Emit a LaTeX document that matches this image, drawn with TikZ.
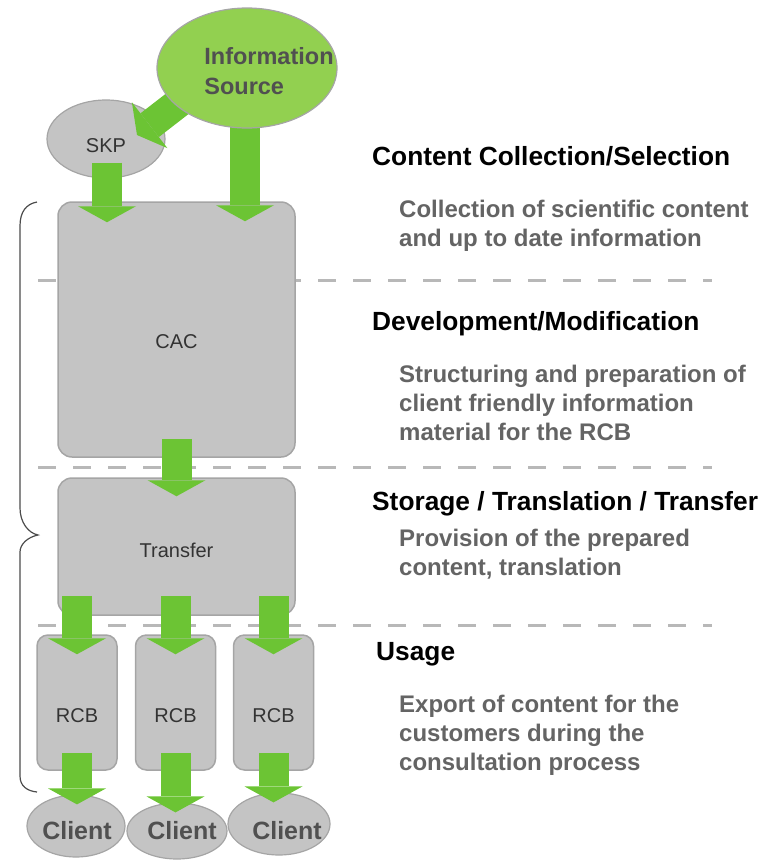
\documentclass[tikz,border=0pt]{standalone}
\usepackage{fontspec}
\setmainfont{Liberation Sans}
\usetikzlibrary{arrows.meta,calc,shapes.geometric}
\definecolor{flowgreen}{RGB}{108,196,52}
\definecolor{srcgreen}{RGB}{146,208,80}
\definecolor{boxgray}{RGB}{196,196,196}
\definecolor{edgegray}{RGB}{165,165,165}
\definecolor{descgray}{RGB}{100,100,100}
\definecolor{labelgray}{RGB}{80,80,80}
\pgfdeclarelayer{front}
\pgfsetlayers{main,front}

\begin{document}
\begin{tikzpicture}[
    x=1pt, y=-1pt,
    box/.style = {draw=edgegray, line width=1.5pt, fill=boxgray,
      rounded corners=14pt, inner sep=0pt},
    boxtext/.style = {font=\fontsize{20}{24}\selectfont, text=black!80},
    oval/.style = {ellipse, draw=edgegray, line width=1.2pt, fill=boxgray, inner sep=0pt},
    ovaltext/.style = {font=\bfseries\fontsize{25}{30}\selectfont, text=labelgray},
    flow/.style = {draw=flowgreen, line width=30pt,
      -{Triangle[width=58pt,length=16pt,line width=0pt]}},
    heading/.style = {anchor=base west, inner sep=0pt,
      font=\bfseries\fontsize{26.3}{30}\selectfont},
    desc/.style = {anchor=base west, inner sep=0pt, align=left, text=descgray,
      font=\bfseries\fontsize{24}{29}\selectfont},
    separator/.style = {draw=black!28, line width=3pt, dash pattern=on 18pt off 17pt},
    brace/.style = {draw=black!70, line width=1.2pt}
  ]
  \useasboundingbox (0,0) rectangle (767,860);

  % phase separators
  \foreach \y in {280,467,625}
    \draw[separator] (38,\y) -- (712,\y);

  % sources
  \begin{pgfonlayer}{front}
    \node[oval, fill=srcgreen, minimum width=180pt, minimum height=120pt,
      label={[ovaltext, font=\bfseries\fontsize{23.5}{30}\selectfont, align=left,
        xshift=22pt, yshift=-3.5pt]center:Information\\Source}] (info) at (247,68) {};
  \end{pgfonlayer}
  \node[oval, minimum width=118pt, minimum height=78pt,
    label={[boxtext, yshift=-7pt]center:SKP}] (skp) at (106,139) {};

  % processing boxes
  \node[box, minimum width=237pt, minimum height=255pt,
    label={[boxtext, yshift=-12.5pt]center:CAC}] (cac) at (176.5,329.5) {};
  \node[box, minimum width=237pt, minimum height=137pt,
    label={[boxtext, yshift=-3.5pt]center:Transfer}] (transfer) at (176.5,546.5) {};
  \foreach \i/\x in {1/77,2/175.5,3/273.5}
    \node[box, rounded corners=11pt, minimum width=80pt, minimum height=135pt,
      label={[boxtext, yshift=-13.5pt]center:RCB}] (rcb\i) at (\x,702.5) {};

  % clients
  \node[oval, minimum width=98pt, minimum height=62pt,
    label={[ovaltext, xshift=1pt, yshift=-5pt]center:Client}] (cl1) at (76,826) {};
  \node[oval, minimum width=100pt, minimum height=56pt,
    label={[ovaltext, xshift=5pt]center:Client}] (cl2) at (177,831) {};
  \node[oval, minimum width=102pt, minimum height=62pt,
    label={[ovaltext, xshift=8pt, yshift=-7pt]center:Client}] (cl3) at (279,824) {};

  % flows
  \draw[flow] ([shift={(-39pt,-12pt)}]info.center) -- ([shift={(31pt,4pt)}]skp.center);
  \draw[flow] ([xshift=-2pt,yshift=12pt]info.south) -- ([xshift=-2pt,yshift=-20pt]info.south |- cac.north);
  \draw[flow] ([xshift=1pt,yshift=16pt]skp.south) -- ([xshift=1pt,yshift=-21pt]skp.south |- cac.north);
  \draw[flow] ([yshift=19pt]cac.south) -- ([yshift=-19pt]transfer.north);
  \foreach \i in {1,2,3} {
    \draw[flow] ([yshift=20pt]transfer.south -| rcb\i) -- ([yshift=-20pt]rcb\i.north);
    \draw[flow] ([yshift=18pt]rcb\i.south) -- ([yshift=-10pt]rcb\i.south |- cl\i.north);
  }

  % brace over the chain
  \draw[brace] (37,202) .. controls (26,204) and (20,212) .. (20,226) -- (20,508)
    .. controls (20,522) and (28,533) .. (38,535)
    .. controls (28,537) and (20,544) .. (20,552) -- (20,776)
    .. controls (20,786) and (27,791) .. (37,792);

  % phase descriptions
  \node[heading] (h1) at (372,165) {Content Collection/Selection};
  \node[desc] (d1) at (399,246) {Collection of scientific content\\and up to date information};
  \node[heading] (h2) at (372,330) {Development/Modification};
  \node[desc] (d2) at (399,440) {Structuring and preparation of\\client friendly information\\material for the RCB};
  \node[heading] (h3) at (372,510) {Storage / Translation / Transfer};
  \node[desc] (d3) at (399,575) {Provision of the prepared\\content, translation};
  \node[heading] (h4) at (376,660) {Usage};
  \node[desc] (d4) at (399,770) {Export of content for the\\customers during the\\consultation process};
\end{tikzpicture}
\end{document}
